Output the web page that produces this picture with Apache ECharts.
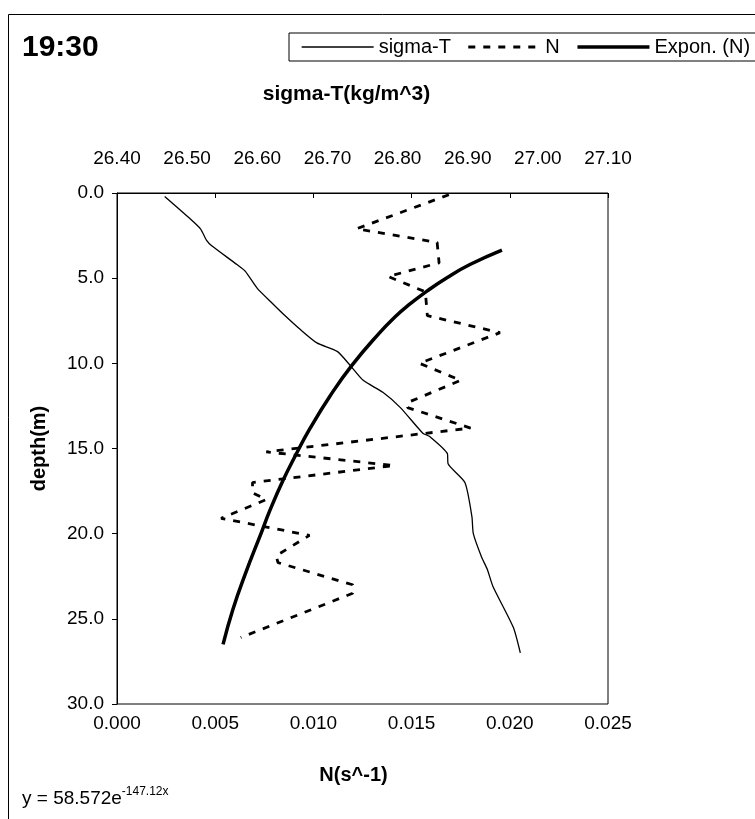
<!DOCTYPE html>
<html>
<head>
<meta charset="utf-8">
<script src="https://cdn.jsdelivr.net/npm/echarts@6/dist/echarts.min.js"></script>
<style>
  html, body { margin: 0; padding: 0; background: #fff; }
  #chart { width: 755px; height: 819px; }
</style>
</head>
<body>
<div id="chart"></div>
<script>
// sigma-T profile: [sigma-T (kg/m^3), depth (m)]
const sigmaT = [
  [26.468, 0.2], [26.504, 1.5], [26.519, 2.1], [26.528, 2.8], [26.535, 3.1],
  [26.571, 4.2], [26.583, 4.6], [26.600, 5.6], [26.622, 6.5], [26.637, 7.1],
  [26.661, 8.0], [26.685, 8.8], [26.714, 9.3], [26.732, 10.1], [26.751, 11.0],
  [26.779, 11.7], [26.804, 12.6], [26.836, 14.1], [26.846, 14.3], [26.871, 15.3],
  [26.872, 15.9], [26.896, 17.0], [26.906, 19.0], [26.908, 20.0], [26.920, 21.4],
  [26.928, 22.1], [26.936, 23.1], [26.965, 25.5], [26.975, 27.0]
];

// buoyancy frequency N: [N (s^-1), depth (m)]
const nFreq = [
  [0.0169, 0.1], [0.0122, 2.1], [0.0163, 2.9], [0.0164, 4.1], [0.0138, 4.9],
  [0.0157, 5.8], [0.0158, 7.2], [0.0195, 8.2], [0.0154, 10.0], [0.0175, 11.0],
  [0.0148, 12.3], [0.0148, 12.6], [0.0180, 13.8], [0.0076, 15.2], [0.0141, 16.0],
  [0.0069, 17.0], [0.0069, 17.6], [0.0076, 18.0], [0.0053, 19.1], [0.0098, 20.1],
  [0.0081, 21.3], [0.0082, 21.7], [0.0120, 23.0], [0.0120, 23.5], [0.0063, 26.1]
];

// exponential trend line of N: [N, depth]
const exponN = [
  [0.01960, 3.35], [0.01797, 4.20], [0.01680, 4.97], [0.01578, 5.76], [0.01476, 6.66],
  [0.01415, 7.28], [0.01339, 8.18], [0.01196, 10.12], [0.01084, 11.93], [0.00982, 13.84],
  [0.00906, 15.47], [0.00845, 16.88], [0.00779, 18.62], [0.00738, 19.85], [0.00652, 22.40],
  [0.00590, 24.45], [0.00540, 26.50]
];

const font = 'Liberation Sans, Arial, sans-serif';

const chart = echarts.init(document.getElementById('chart'));
chart.setOption({
  animation: false,
  textStyle: { fontFamily: font, color: '#000' },
  graphic: [
    {
      type: 'rect',
      shape: { x: 8.5, y: 14.5, width: 800, height: 900 },
      style: { fill: null, stroke: '#000', lineWidth: 1 }
    },
    {
      type: 'text', left: 22, top: 33,
      style: { text: '19:30', font: 'bold 30px ' + font, fill: '#000' }
    },
    {
      type: 'text', left: 22, top: 786,
      style: {
        text: '{a|y = 58.572e}{b|-147.12x}',
        rich: {
          a: { fontSize: 19, fontFamily: font, fill: '#000', verticalAlign: 'bottom' },
          b: { fontSize: 12, fontFamily: font, fill: '#000', verticalAlign: 'top', padding: [0, 0, 10, 0] }
        }
      }
    }
  ],
  legend: {
    left: 289, top: 33, width: 800,
    orient: 'horizontal',
    padding: [4, 20, 4, 12],
    itemGap: 16,
    itemWidth: 72,
    itemHeight: 14,
    borderColor: '#000',
    borderWidth: 1,
    borderRadius: 0,
    itemStyle: { opacity: 0 },
    textStyle: { fontSize: 20, color: '#000', fontFamily: font },
    data: [
      { name: 'sigma-T', lineStyle: { width: 1.3 } },
      { name: 'N', lineStyle: { width: 2.8 } },
      { name: 'Expon. (N)', lineStyle: { width: 3.5 } }
    ]
  },
  grid: { left: 117, right: 147, top: 193, bottom: 115, show: true, borderColor: '#000', borderWidth: 1 },
  xAxis: [
    {
      type: 'value', position: 'bottom',
      min: 0, max: 0.025, interval: 0.005,
      name: 'N(s^-1)', nameLocation: 'middle', nameGap: 61,
      nameTextStyle: { fontSize: 20, fontWeight: 'bold', color: '#000', padding: [0, 18, 0, 0] },
      axisLine: { lineStyle: { color: '#000' } },
      axisTick: { length: 5, lineStyle: { color: '#000' } },
      axisLabel: { fontSize: 19, color: '#000', margin: 10, formatter: v => v.toFixed(3) },
      splitLine: { show: false }
    },
    {
      type: 'value', position: 'top',
      min: 26.4, max: 27.1, interval: 0.1,
      name: 'sigma-T(kg/m^3)', nameLocation: 'middle', nameGap: 88,
      nameTextStyle: { fontSize: 21, fontWeight: 'bold', color: '#000', padding: [0, 32, 0, 0] },
      axisLine: { show: false },
      axisTick: { show: false },
      axisLabel: { fontSize: 19, color: '#000', margin: 25, formatter: v => v.toFixed(2) },
      splitLine: { show: false }
    }
  ],
  yAxis: {
    type: 'value', inverse: true,
    min: 0, max: 30, interval: 5,
    name: 'depth(m)', nameLocation: 'middle', nameGap: 68,
    nameTextStyle: { fontSize: 20, fontWeight: 'bold', color: '#000' },
    axisLine: { show: true, lineStyle: { color: '#000' } },
    axisTick: { show: true, length: 5, lineStyle: { color: '#000' } },
    axisLabel: { fontSize: 19, color: '#000', margin: 13, formatter: v => v.toFixed(1) },
    splitLine: { show: false }
  },
  series: [
    {
      name: 'sigma-T', type: 'line', xAxisIndex: 1, data: sigmaT,
      symbol: 'none', smooth: 0.2,
      lineStyle: { color: '#000', width: 1.3 },
      itemStyle: { color: '#000' }
    },
    {
      name: 'N', type: 'line', xAxisIndex: 0, data: nFreq,
      symbol: 'none',
      lineStyle: { color: '#000', width: 2.8, type: [7, 8] },
      itemStyle: { color: '#000' }
    },
    {
      name: 'Expon. (N)', type: 'line', xAxisIndex: 0, data: exponN,
      symbol: 'none', smooth: true,
      lineStyle: { color: '#000', width: 3.5 },
      itemStyle: { color: '#000' }
    }
  ]
});
</script>
</body>
</html>
